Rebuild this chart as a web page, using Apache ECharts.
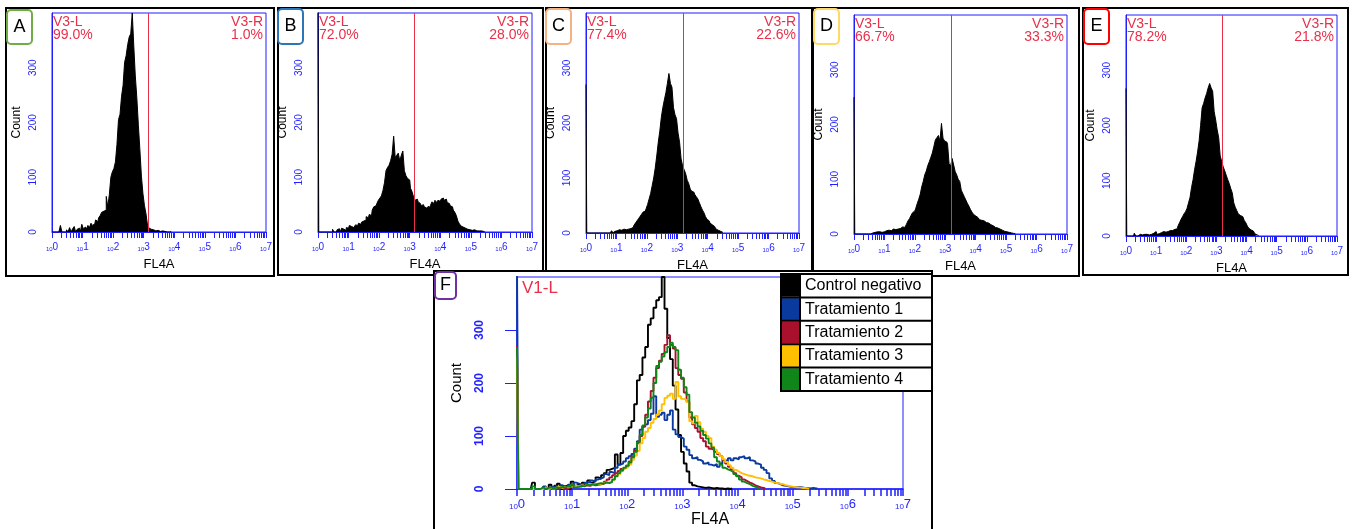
<!DOCTYPE html>
<html><head><meta charset="utf-8">
<script src="https://cdn.jsdelivr.net/npm/echarts@6/dist/echarts.min.js"></script>
<style>html,body{margin:0;padding:0;background:#fff}#c{width:1353px;height:529px}</style>
</head><body><div id="c"></div>
<script>
// ---- data: counts per channel bin, bins are BIN decades wide starting at 10^0 ----
const BIN = 0.05;
const decades = [0,1,2,3,4,5,6,7];
const seriesNames = ['Control negativo','Tratamiento 1','Tratamiento 2','Tratamiento 3','Tratamiento 4'];
const controlNeg = [0,0,0,0,0,0,12,0,0,0, 4,0,8,0,6,10,0,5,7,0, 14,6,9,5,12,8,16,12,15,22, 19,26,30,36,38,40,65,46,68,100,
  110,116,128,160,205,215,248,268,310,322, 342,356,362,400,340,285,245,195,150,102, 70,48,33,12,7,5,4,3,2,3, 2,1,2,1,1,0,1,0,1];
const trat1 = [420,0,0,0,0,0,0,0,0,0, 5,0,0,4,6,0,7,5,3,8, 7,12,10,8,11,13,12,16,14,18, 20,22,28,26,32,30,40,46,48,52,
  58,62,66,76,90,112,118,122,130,142, 175,136,140,144,130,140,148,112,103,98, 95,80,74,64,58,60,55,52,48,50,
  46,44,47,42,48,55,52,58,54,58, 56,60,62,58,60,54,52,48,46,40, 36,30,20,15,11,9,7,6,5,4, 4,3,4,3,2,2,1,2,1,1];
const trat2 = [270,0,0,0,0,0,0,0,0,0, 0,0,0,0,0,0,3,4,0,3, 4,5,6,5,6,7,6,8,7,8, 9,10,14,18,22,26,30,34,38,40,
  44,52,62,72,86,100,118,140,165,185, 210,228,242,255,272,290,272,265,228,215, 208,182,165,135,122,115,108,96,90,80,
  76,74,70,66,62,55,48,42,37,30, 25,22,18,15,12,10,7,5,3,2,1];
const trat3 = [250,0,0,0,0,0,0,0,0,0, 3,0,2,0,3,4,2,4,3,5, 4,6,5,7,6,8,9,8,10,9, 10,11,13,12,15,18,24,28,34,39,
  42,46,55,63,72,86,96,108,115,125, 132,140,148,160,172,176,180,170,202,175, 170,168,164,128,124,138,126,114,108,100,
  96,80,74,68,62,56,51,45,40,36, 33,30,28,26,25,24,22,21,20,18, 17,15,14,12,11,10,9,7,6,5, 4,3,3,2,2,1,1];
const trat4 = [267,0,0,0,0,0,5,0,0,3, 0,2,3,0,3,2,4,3,5,4, 8,3,4,6,5,8,7,9,8,10, 11,10,12,11,13,18,24,30,35,40,
  44,50,60,70,88,102,120,135,152,172, 200,232,240,250,258,268,276,268,262,225, 210,192,178,145,135,125,118,110,102,95,
  86,78,60,52,46,40,37,35,32,28, 24,18,14,11,9,6,4,2,1];
const gateLeft = ['99.0%','72.0%','77.4%','66.7%','78.2%'];
const gateRight = ['1.0%','28.0%','22.6%','33.3%','21.8%'];
const gateCut = [3.14,3.14,3.19,3.19,3.19];   // decades
const gateCutF = 3.25;
const letters = ['A','B','C','D','E','F'];

// ---- layout / style ----
const hist = [controlNeg, trat1, trat2, trat3, trat4];
const BLUE = '#1f1fff', RED = '#e8304a';
const lineColors = ['#000000','#0b3a9e','#a8102c','#ffc000','#10851a'];
const letterColors = ['#70ad47','#2e75b6','#f4b183','#ffd966','#ff0000','#7030a0'];
const grids = [
  {left:52, top:13, width:214, height:219},
  {left:318, top:13, width:214, height:219},
  {left:586, top:13, width:213, height:220},
  {left:854, top:15, width:213, height:219},
  {left:1126, top:15, width:211, height:221},
  {left:517, top:277, width:386, height:212}
];
const boxes = [[6,8,268,268],[278,8,265,267],[546,8,266,263],[813,8,266,268],[1083,8,265,267]];
const boxF = [434,271,498,280];
const letterBoxes = [[7,10,25,34],[278,9,25,35],[546,9,25,35],[814,9,25,35],[1084,9,25,35],[435,272,21,27]];
const FONT = 'Liberation Sans';

const minorTicks = [];
for (let d = 0; d < 7; d++) for (let k = 1; k <= 9; k++) minorTicks.push(d + Math.log10(k));
minorTicks.push(7);

function xAx(i, big) {
  return {type:'value', gridIndex:i, min:0, max:7, interval:1, name:'FL4A', nameLocation:'middle',
    nameGap: big ? 23 : 26, z: big ? 12 : 0,
    nameTextStyle:{color:'#000', fontSize: big ? 16 : 13, fontFamily:FONT},
    axisLine:{show:true, lineStyle:{color:BLUE, width: big ? 1.5 : 1}},
    axisTick:{show:true, customValues:minorTicks, length: big ? 7 : 6, lineStyle:{color:BLUE, width: big ? 1.5 : 1}},
    axisLabel:{margin: big ? 9 : 10, formatter: v => '{b|10}{e|' + v + '}',
      rich:{b:{fontSize: big ? 8 : 6, color:BLUE, fontFamily:FONT, verticalAlign:'bottom'},
            e:{fontSize: big ? 13 : 10, color:BLUE, fontFamily:FONT, verticalAlign:'top'}}},
    splitLine:{show:false}};
}
function yAx(i, big) {
  return {type:'value', gridIndex:i, min:0, max:400, interval:100, name:'Count', nameLocation:'middle',
    nameGap: big ? 53 : 29, nameRotate:90, z: big ? 12 : 0,
    nameTextStyle:{color:'#000', fontSize: big ? 15 : 12, fontFamily:FONT},
    axisLine:{show:true, lineStyle:{color:BLUE, width: big ? 1.5 : 1}},
    axisTick:{show:big, length:12, lineStyle:{color:BLUE}},
    axisLabel:{rotate:90, margin: big ? 31 : 14, showMaxLabel:false, color:BLUE, fontFamily:FONT,
      fontSize: big ? 12 : 10, fontWeight: big ? 'bold' : 'normal', align:'center', verticalAlign:'bottom'},
    splitLine:{show:false}};
}
const toPts = arr => arr.map((c, i) => [i * BIN, c]);

const series = [];
hist.forEach((arr, i) => {
  series.push({type:'line', name:'hist' + i, xAxisIndex:i, yAxisIndex:i, data:toPts(arr), step:'middle',
    symbol:'none', lineStyle:{color:'#000', width:1}, areaStyle:{color:'#000', opacity:1}, silent:true,
    markLine:{symbol:['none','none'], silent:true, label:{show:false}, animation:false,
      lineStyle:{color:RED, width:1, type:'solid'}, data:[{xAxis:gateCut[i]}]}});
});
hist.forEach((arr, i) => {
  const s = {type:'line', name:seriesNames[i], xAxisIndex:5, yAxisIndex:5, data:toPts(arr), step:'middle',
    symbol:'none', color:lineColors[i], lineStyle:{color:lineColors[i], width:1.9}, z:13 + i};
  if (i === 0) s.markLine = {symbol:['none','none'], silent:true, label:{show:false}, animation:false,
      lineStyle:{color:RED, width:2, type:'solid'}, data:[{xAxis:gateCutF}]};
  series.push(s);
});

const txt = (x, y, text, o) => Object.assign({type:'text', x:x, y:y, z:30,
  style:Object.assign({text:text, fill:RED, fontSize:14, fontFamily:FONT, align:'left', textAlign:'left',
    verticalAlign:'top', textVerticalAlign:'top'}, o || {})});
const graphic = [];
boxes.forEach(b => graphic.push({type:'rect', z:1, shape:{x:b[0], y:b[1], width:b[2], height:b[3]},
  style:{fill:'none', stroke:'#000', lineWidth:2}}));
graphic.push({type:'rect', z:10, shape:{x:boxF[0], y:boxF[1], width:boxF[2], height:boxF[3]},
  style:{fill:'#fff', stroke:'#000', lineWidth:2}});
for (let i = 0; i < 5; i++) {
  const g = grids[i];
  graphic.push(txt(g.left + 1, g.top + 2, 'V3-L'));
  graphic.push(txt(g.left + 1, g.top + 15, gateLeft[i]));
  graphic.push(txt(g.left + g.width - 3, g.top + 2, 'V3-R', {align:'right', textAlign:'right'}));
  graphic.push(txt(g.left + g.width - 3, g.top + 15, gateRight[i], {align:'right', textAlign:'right'}));
}
graphic.push(txt(grids[5].left + 5, grids[5].top + 3, 'V1-L', {fontSize:17}));
letterBoxes.forEach((b, i) => {
  graphic.push({type:'rect', z:30, shape:{x:b[0], y:b[1], width:b[2], height:b[3], r:4},
    style:{fill:'#fff', stroke:letterColors[i], lineWidth:2}});
  graphic.push({type:'text', z:31, x:b[0] + b[2] / 2, y:b[1] + b[3] / 2,
    style:{text:letters[i], fill:'#000', fontSize:18, fontFamily:FONT, align:'center', textAlign:'center',
      verticalAlign:'middle', textVerticalAlign:'middle'}});
});
// legend table
const LT = {x:781, y:274, w:151, rowH:23.4, cellW:19};
graphic.push({type:'rect', z:14, shape:{x:LT.x, y:LT.y, width:LT.w, height:LT.rowH * 5},
  style:{fill:'#fff', stroke:'#000', lineWidth:2}});
for (let r = 1; r < 5; r++) graphic.push({type:'line', z:20, shape:{x1:LT.x, y1:LT.y + r * LT.rowH, x2:LT.x + LT.w, y2:LT.y + r * LT.rowH},
  style:{stroke:'#000', lineWidth:2}});
graphic.push({type:'line', z:20, shape:{x1:LT.x + LT.cellW, y1:LT.y, x2:LT.x + LT.cellW, y2:LT.y + LT.rowH * 5},
  style:{stroke:'#000', lineWidth:2}});
graphic.push({type:'rect', z:20, shape:{x:LT.x, y:LT.y, width:LT.w, height:LT.rowH * 5},
  style:{fill:'none', stroke:'#000', lineWidth:2}});

const chart = echarts.init(document.getElementById('c'), null, {renderer:'canvas'});
chart.setOption({
  animation:false,
  backgroundColor:'#fff',
  grid: grids.map((g, i) => Object.assign({show:true, borderColor:BLUE, borderWidth:1, backgroundColor:'transparent',
    containLabel:false, z: i === 5 ? 11 : 0}, g)),
  xAxis: grids.map((g, i) => xAx(i, i === 5)),
  yAxis: grids.map((g, i) => yAx(i, i === 5)),
  legend:{show:true, data:seriesNames, orient:'vertical', left:LT.x + 1, top:LT.y + 0.7, padding:0,
    itemWidth:LT.cellW - 1, itemHeight:22, itemGap:1.4, icon:'rect', z:16, selectedMode:false,
    textStyle:{fontSize:16, fontFamily:FONT, color:'#000'}},
  graphic: graphic,
  series: series
});
</script></body></html>
